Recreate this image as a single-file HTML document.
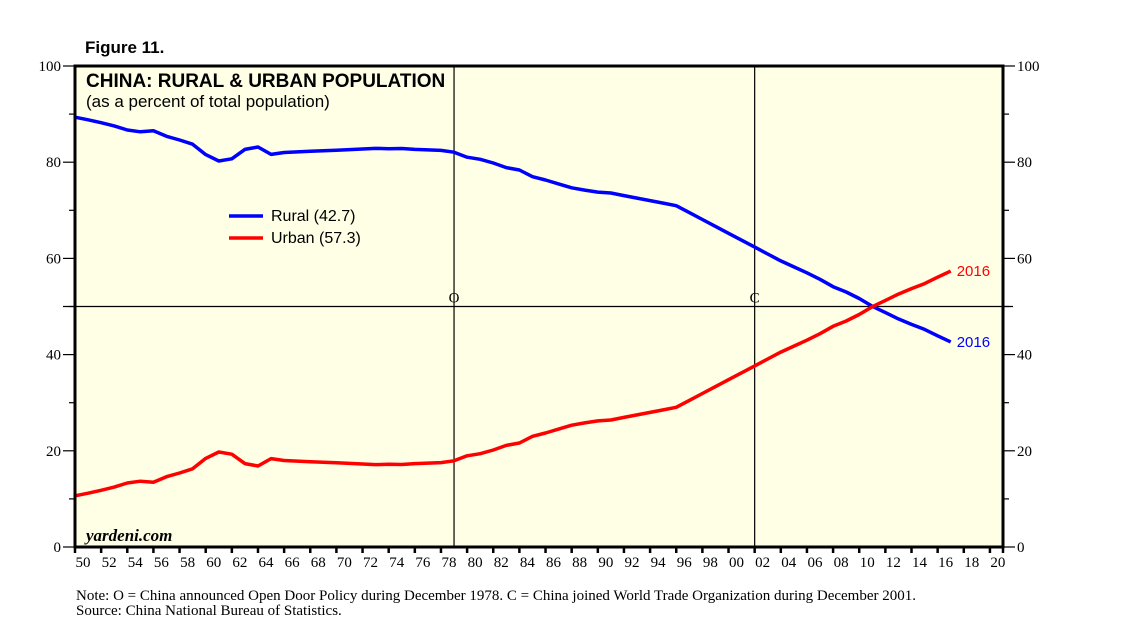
<!DOCTYPE html>
<html><head><meta charset="utf-8"><style>
body{margin:0;background:#fff;}
svg{display:block;}
</style></head><body>
<svg id="chart" width="1138" height="630" xmlns="http://www.w3.org/2000/svg">
<rect x="75" y="66" width="928" height="481" fill="#FFFFE6"/>
<g id="grid"></g>
<g id="series"></g>
<rect x="75" y="66" width="928" height="481" fill="none" stroke="#000" stroke-width="3"/>
<g id="axes" font-family="Liberation Serif, serif" font-size="15" fill="#000"></g>
<text x="85" y="53" font-family="Liberation Sans, sans-serif" font-weight="bold" font-size="17">Figure 11.</text>
<text x="86" y="87" font-family="Liberation Sans, sans-serif" font-weight="bold" font-size="19">CHINA: RURAL &amp; URBAN POPULATION</text>
<text x="86" y="107" font-family="Liberation Sans, sans-serif" font-size="17">(as a percent of total population)</text>
<line x1="229" y1="216" x2="263" y2="216" stroke="#0000FF" stroke-width="3.5"/>
<text x="271" y="221" font-family="Liberation Sans, sans-serif" font-size="16">Rural (42.7)</text>
<line x1="229" y1="238" x2="263" y2="238" stroke="#FF0000" stroke-width="3.5"/>
<text x="271" y="243" font-family="Liberation Sans, sans-serif" font-size="16">Urban (57.3)</text>
<text x="86" y="541" font-family="Liberation Serif, serif" font-style="italic" font-weight="bold" font-size="17">yardeni.com</text>
<text x="76" y="600" font-family="Liberation Serif, serif" font-size="15">Note: O = China announced Open Door Policy during December 1978. C = China joined World Trade Organization during December 2001.</text>
<text x="76" y="615" font-family="Liberation Serif, serif" font-size="15">Source: China National Bureau of Statistics.</text>
</svg>
<script>
const years = [];
for (let y = 1949; y <= 2016; y++) years.push(y);
const urban = [10.64,11.18,11.78,12.46,13.31,13.69,13.48,14.62,15.39,16.25,18.41,19.75,19.29,17.33,16.84,18.37,17.98,17.86,17.74,17.62,17.50,17.38,17.26,17.13,17.20,17.16,17.34,17.44,17.55,17.92,18.96,19.39,20.16,21.13,21.62,23.01,23.71,24.52,25.32,25.81,26.21,26.41,26.94,27.46,27.99,28.51,29.04,30.48,31.91,33.35,34.78,36.22,37.66,39.09,40.53,41.76,42.99,44.34,45.89,46.99,48.34,49.95,51.27,52.57,53.73,54.77,56.10,57.35];
const rural = [89.36,88.82,88.22,87.54,86.69,86.31,86.52,85.38,84.61,83.75,81.59,80.25,80.71,82.67,83.16,81.63,82.02,82.14,82.26,82.38,82.50,82.62,82.74,82.87,82.80,82.84,82.66,82.56,82.45,82.08,81.04,80.61,79.84,78.87,78.38,76.99,76.29,75.48,74.68,74.19,73.79,73.59,73.06,72.54,72.01,71.49,70.96,69.52,68.09,66.65,65.22,63.78,62.34,60.91,59.47,58.24,57.01,55.66,54.11,53.01,51.66,50.05,48.73,47.43,46.27,45.23,43.90,42.65];
const yTicks = [0,20,40,60,80,100];
const xLabels = ["50","52","54","56","58","60","62","64","66","68","70","72","74","76","78","80","82","84","86","88","90","92","94","96","98","00","02","04","06","08","10","12","14","16","18","20"];
const events = [{t:1979.0,label:"O"},{t:2002.0,label:"C"}];

const NS="http://www.w3.org/2000/svg";
const X0=75, PX=928/71;
const xT = t => X0 + (t-1950)*PX;
const xY = yr => X0 + (yr-1949)*PX;
const yV = v => 547 - v*4.81;
function mk(tag, attrs, parent){const e=document.createElementNS(NS,tag);for(const k in attrs)e.setAttribute(k,attrs[k]);parent.appendChild(e);return e;}
const grid=document.getElementById('grid'), axes=document.getElementById('axes'), series=document.getElementById('series');

let l=mk('line',{x1:63,x2:1013,y1:yV(50),y2:yV(50),stroke:'#000','stroke-width':1.2},grid);


events.forEach(ev=>{
  const x=xT(ev.t);
  const ln=mk('line',{x1:x,x2:x,y1:66,y2:547,stroke:'#000','stroke-width':1.2},grid);
  
  
  const tx=mk('text',{x:x,y:yV(50)-4,'text-anchor':'middle','font-family':'Liberation Serif, serif','font-size':15},grid);
  tx.textContent=ev.label;
  
  
});

for(let v=0;v<=100;v+=10){
  const y=yV(v), major=v%20===0, len=major?12:6;
  let a=mk('line',{x1:75-len,x2:75,y1:y,y2:y,stroke:'#000','stroke-width':1.2},axes);
  
  
  let b=mk('line',{x1:1003,x2:1003+len,y1:y,y2:y,stroke:'#000','stroke-width':1.2},axes);
  
  
}
yTicks.forEach(v=>{
  const y=yV(v)+5;
  let a=mk('text',{x:61,y:y,'text-anchor':'end'},axes);a.textContent=v;
  
  
  let b=mk('text',{x:1017,y:y},axes);b.textContent=v;
  
  
});
xLabels.forEach((s,i)=>{
  const x=xT(1950+2*i);
  let t=mk('line',{x1:x,x2:x,y1:547,y2:553,stroke:'#000','stroke-width':2.5},axes);
  
  
  let tx=mk('text',{x:x+8,y:567,'text-anchor':'middle'},axes);tx.textContent=s;
  
  
});
let tEnd=mk('line',{x1:xT(2021),x2:xT(2021),y1:547,y2:553,stroke:'#000','stroke-width':2.5},axes);



function drawLine(vals,color,name){
  const d=vals.map((v,i)=>(i?'L':'M')+xY(years[i]).toFixed(1)+','+yV(v).toFixed(1)).join('');
  const p=mk('path',{d:d,fill:'none',stroke:color,'stroke-width':3.5,'stroke-linejoin':'round'},series);
  
  
  const n=vals.length-1;
  const t=mk('text',{x:xY(years[n])+6,y:yV(vals[n])+5,fill:color,'font-family':'Liberation Sans, sans-serif','font-size':15},series);
  t.textContent=String(years[n]);
  
  
}
drawLine(rural,'#0000FF','rural');
drawLine(urban,'#FF0000','urban');
</script>
</body></html>
